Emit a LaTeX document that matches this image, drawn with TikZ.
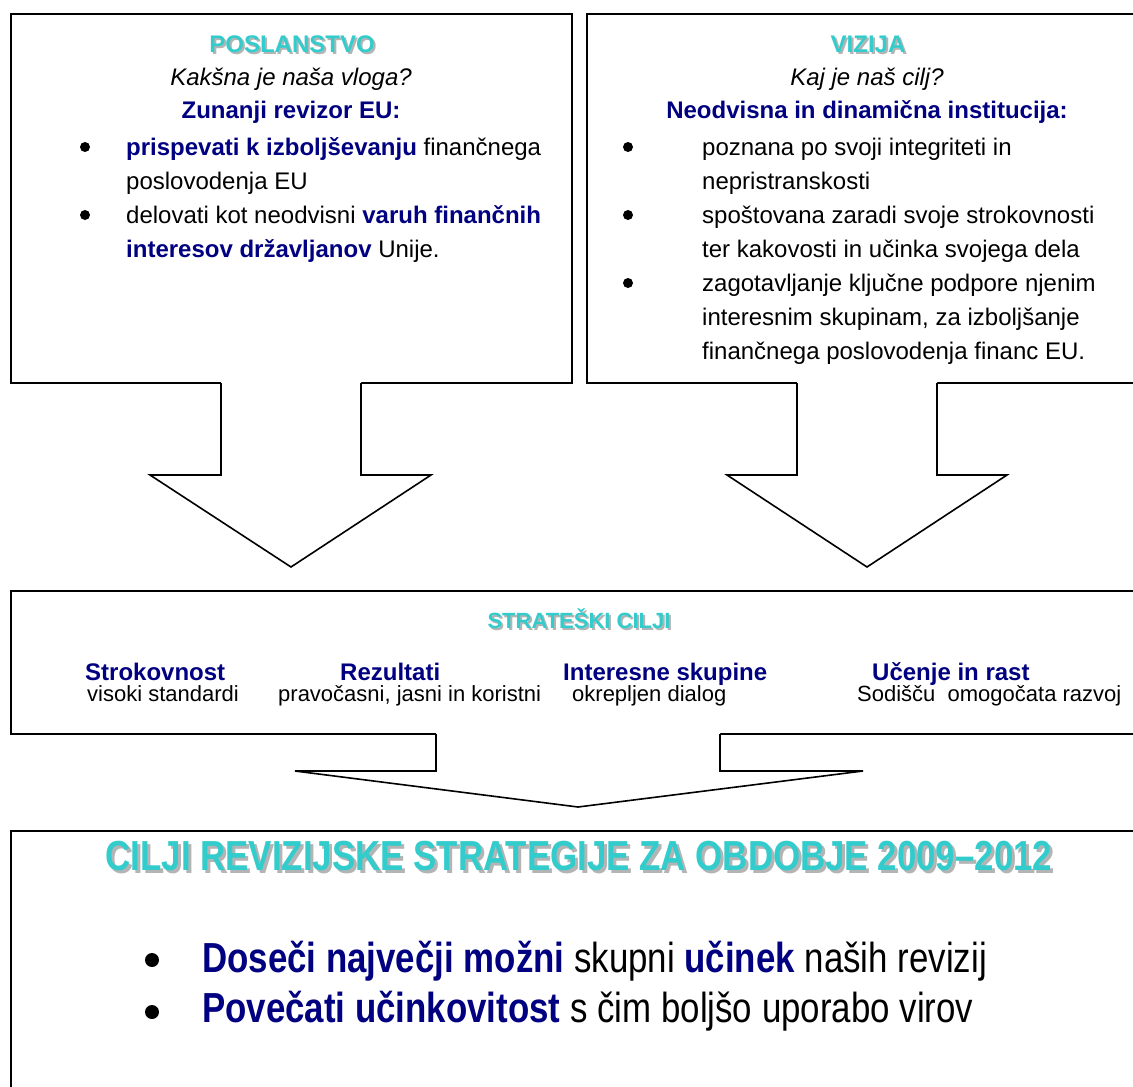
\documentclass[tikz,border=0pt]{standalone}
\usepackage{fontspec}
\setmainfont{Liberation Sans}
\newfontfamily\narrowfont{Liberation Sans}[FakeStretch=0.83]
\definecolor{navyblue}{RGB}{0,0,128}
\definecolor{titlecyan}{RGB}{51,204,204}
\definecolor{shadowgray}{RGB}{180,180,180}
\newcommand\nb[1]{\textcolor{navyblue}{\bfseries #1}}
% text with a drop shadow, in one box: #1 = offset, #2 = text
\newcommand\shtext[2]{\makebox[0pt][l]{\hspace*{#1}\raisebox{-#1}{\textcolor{shadowgray}{#2}}}\textcolor{titlecyan}{#2}}
\tikzset{
  boxframe/.style={draw=black, line width=2pt, fill=white},
  arrowfill/.style={fill=white},
  arrowline/.style={draw=black, line width=1.6pt, line join=miter},
  txt/.style={inner sep=0pt, font=\fontsize{24}{34}\selectfont},
  ctr/.style={txt, anchor=base},
  lft/.style={txt, anchor=base west},
  smalltxt/.style={inner sep=0pt, anchor=base west, font=\fontsize{22}{26}\selectfont},
  headtxt/.style={inner sep=0pt, anchor=base west, text=navyblue, font=\bfseries\fontsize{24}{28}\selectfont},
  ttl/.style={inner sep=0pt, anchor=base, font=\bfseries\fontsize{24}{28}\selectfont},
  ttlsmall/.style={inner sep=0pt, anchor=base, font=\bfseries\fontsize{22}{26}\selectfont},
  bigttl/.style={inner sep=0pt, anchor=base, font=\narrowfont\bfseries\fontsize{42}{48}\selectfont},
  bigtxt/.style={inner sep=0pt, anchor=base west, font=\narrowfont\fontsize{42}{50}\selectfont},
  dot/.style={circle, fill=black, inner sep=0pt, minimum size=10pt},
  bigdot/.style={circle, fill=black, inner sep=0pt, minimum size=14pt},
}
\begin{document}
\begin{tikzpicture}[x=1pt,y=-1pt]
\useasboundingbox (0,0) rectangle (1133,1087);
\clip (0,0) rectangle (1133,1087);
\fill[white] (0,0) rectangle (1133,1087);

% ---------- top boxes ----------
\draw[boxframe] (11,14) rectangle (572,383);
\draw[boxframe] (587,14) rectangle (1148,383);

% left arrow
\path[arrowfill] (221,380) -- (221,475) -- (150,475) -- (291,567) -- (431,475) -- (361,475) -- (361,380) -- cycle;
\draw[arrowline] (221,383) -- (221,475) -- (150,475) -- (291,567) -- (431,475) -- (361,475) -- (361,383);
% right arrow
\path[arrowfill] (797,380) -- (797,475) -- (727,475) -- (867,567) -- (1007,475) -- (937,475) -- (937,380) -- cycle;
\draw[arrowline] (797,383) -- (797,475) -- (727,475) -- (867,567) -- (1007,475) -- (937,475) -- (937,383);

% left box text
\node[ttl] (posl) at (292,52) {\shtext{2pt}{POSLANSTVO}};
\node[ctr] (q1) at (291,85) {\itshape Kakšna je naša vloga?};
\node[ctr] (h1) at (291,118) {\nb{Zunanji revizor EU:}};
\node[dot] (b11) at (85,147) {};
\node[lft] (l11) at (126,155) {\nb{prispevati k izboljševanju} finančnega};
\node[lft] (l12) at (126,189) {poslovodenja EU};
\node[dot] (b12) at (85,215) {};
\node[lft] (l13) at (126,223) {delovati kot neodvisni \nb{varuh finančnih}};
\node[lft] (l14) at (126,257) {\nb{interesov državljanov} Unije.};

% right box text
\node[ttl] (viz) at (868,52) {\shtext{2pt}{VIZIJA}};
\node[ctr] (q2) at (867,85) {\itshape Kaj je naš cilj?};
\node[ctr] (h2) at (867,118) {\nb{Neodvisna in dinamična institucija:}};
\node[dot] (b21) at (628,147) {};
\node[lft] (l21) at (702,155) {poznana po svoji integriteti in};
\node[lft] (l22) at (702,189) {nepristranskosti};
\node[dot] (b22) at (628,215) {};
\node[lft] (l23) at (702,223) {spoštovana zaradi svoje strokovnosti};
\node[lft] (l24) at (702,257) {ter kakovosti in učinka svojega dela};
\node[dot] (b23) at (628,283) {};
\node[lft] (l25) at (702,291) {zagotavljanje ključne podpore njenim};
\node[lft] (l26) at (702,325) {interesnim skupinam, za izboljšanje};
\node[lft] (l27) at (702,359) {finančnega poslovodenja financ EU.};

% ---------- middle box ----------
\draw[boxframe] (11,591) rectangle (1145,734);
\path[arrowfill] (436,731) -- (436,771) -- (295,771) -- (578,807) -- (863,771) -- (720,771) -- (720,731) -- cycle;
\draw[arrowline] (436,734) -- (436,771) -- (295,771) -- (578,807) -- (863,771) -- (720,771) -- (720,734);

\node[ttlsmall] (sc) at (579,628) {\shtext{2pt}{STRATEŠKI CILJI}};
\node[headtxt] (m1) at (85,680) {Strokovnost};
\node[smalltxt] (s1) at (87,701) {visoki standardi};
\node[headtxt] (m2) at (340,680) {Rezultati};
\node[smalltxt] (s2) at (278,701) {pravočasni, jasni in koristni};
\node[headtxt] (m3) at (563,680) {Interesne skupine};
\node[smalltxt] (s3) at (572,701) {okrepljen dialog};
\node[headtxt] (m4) at (872,680) {Učenje in rast};
\node[smalltxt] (s4) at (857,701) {Sodišču\ \ omogočata razvoj};

% ---------- bottom box ----------
\draw[boxframe] (11,831) rectangle (1145,1100);
\node[bigttl] (bt) at (579,870) {\shtext{3pt}{CILJI REVIZIJSKE STRATEGIJE ZA OBDOBJE 2009–2012}};
\node[bigdot] (bb1) at (152,960) {};
\node[bigtxt] (bl1) at (202,972) {\nb{Doseči največji možni} skupni \nb{učinek} naših revizij};
\node[bigdot] (bb2) at (152,1012) {};
\node[bigtxt] (bl2) at (202,1022) {\nb{Povečati učinkovitost} s čim boljšo uporabo virov};
\end{tikzpicture}
\end{document}
